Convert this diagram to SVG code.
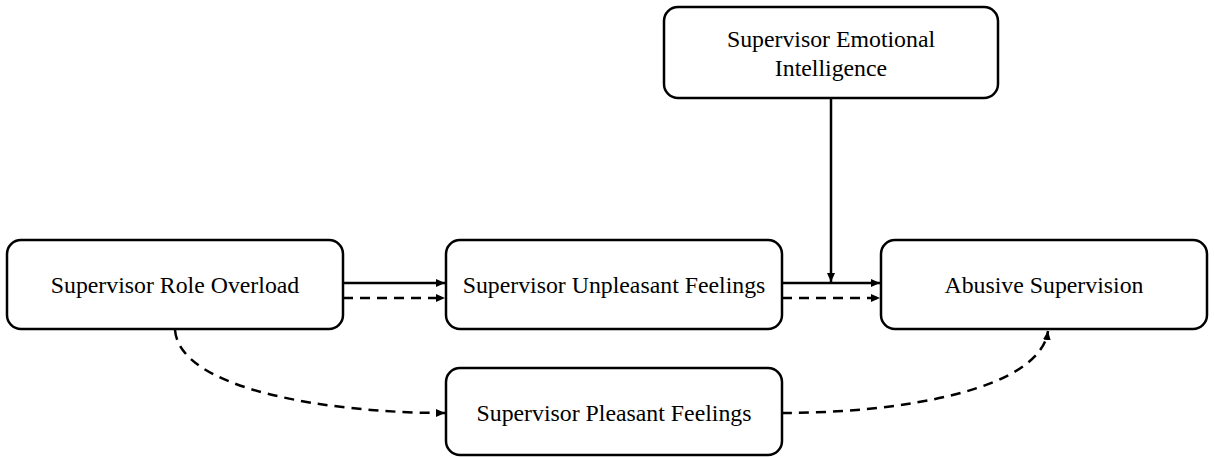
<svg xmlns="http://www.w3.org/2000/svg" width="1214" height="457" viewBox="0 0 1214 457">
<style>
.box{fill:#fff;stroke:#000;stroke-width:2.5}
.lbl{font-family:"Liberation Serif","Times New Roman",serif;font-size:23.8px;fill:#000;text-anchor:middle}
.c{fill:none;stroke:#000;stroke-width:2.5}
.d{stroke-dasharray:10 7}
</style>
<defs>
<marker id="ah" markerWidth="10" markerHeight="10" refX="9" refY="5" orient="auto" markerUnits="userSpaceOnUse">
<path d="M0,1 L9,5 L0,9 Z" fill="#000"/>
</marker>
</defs>
<rect width="1214" height="457" fill="#fff"/>
<g id="connectors">
<path class="c" d="M343,283 H445" marker-end="url(#ah)"/>
<path class="c d" d="M343,298 H445" marker-end="url(#ah)"/>
<path class="c" d="M782,283 H880" marker-end="url(#ah)"/>
<path class="c d" d="M782,298 H880" marker-end="url(#ah)"/>
<path class="c" d="M831,98 V282" marker-end="url(#ah)"/>
<path class="c d" d="M175,330 C180,390 330,413 445,413" marker-end="url(#ah)"/>
<path class="c d" d="M782,413 C900,413 1040,390 1048,331" marker-end="url(#ah)"/>
</g>
<g id="n-overload">
<rect class="box" x="7" y="240" width="336" height="89" rx="14"/>
<text class="lbl" x="175" y="293">Supervisor Role Overload</text>
</g>
<g id="n-unpleasant">
<rect class="box" x="446" y="240" width="336" height="89" rx="14"/>
<text class="lbl" x="614" y="293">Supervisor Unpleasant Feelings</text>
</g>
<g id="n-pleasant">
<rect class="box" x="446" y="368" width="336" height="87" rx="14"/>
<text class="lbl" x="614" y="421">Supervisor Pleasant Feelings</text>
</g>
<g id="n-abusive">
<rect class="box" x="881" y="240" width="326" height="89" rx="14"/>
<text class="lbl" x="1044" y="293">Abusive Supervision</text>
</g>
<g id="n-ei">
<rect class="box" x="664" y="7" width="334" height="91" rx="14"/>
<text class="lbl" x="831" y="47">Supervisor Emotional</text>
<text class="lbl" x="831" y="76">Intelligence</text>
</g>
</svg>
